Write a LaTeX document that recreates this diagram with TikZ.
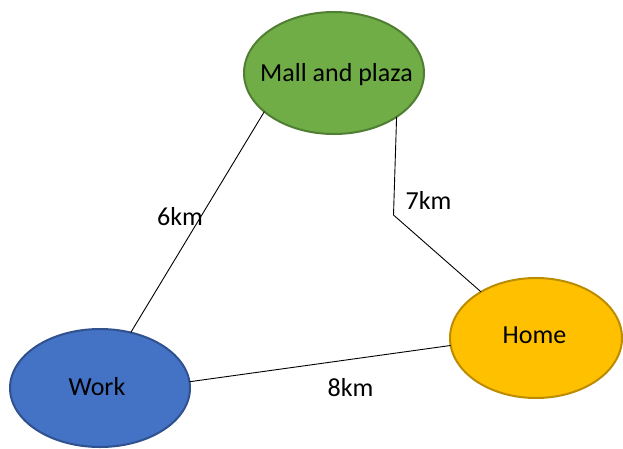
\documentclass[tikz,border=0pt]{standalone}
\usepackage{fontspec}
\setmainfont{Carlito}
\usetikzlibrary{shapes.geometric}
\definecolor{mallfill}{HTML}{70AD47}
\definecolor{malledge}{HTML}{507E32}
\definecolor{workfill}{HTML}{4472C4}
\definecolor{workedge}{HTML}{2F528F}
\definecolor{homefill}{HTML}{FFC000}
\definecolor{homeedge}{HTML}{BC8C00}
\tikzset{
  place/.style={ellipse, draw, line width=2pt, inner sep=0pt, outer sep=0pt},
  lbl/.style={anchor=base, inner sep=0pt, font=\fontsize{26}{30}\selectfont},
  road/.style={draw=black, line width=0.9pt}
}
\begin{document}
\begin{tikzpicture}[x=1pt, y=-1pt]
\useasboundingbox (0,0) rectangle (623,448);
\node[place, fill=mallfill, draw=malledge, minimum width=180pt, minimum height=122pt] (mall) at (334,73) {};
\node[place, fill=workfill, draw=workedge, minimum width=180pt, minimum height=118pt] (work) at (100,388) {};
\node[place, fill=homefill, draw=homeedge, minimum width=172pt, minimum height=120pt] (home) at (536,338) {};
\node[lbl] (malltext) at (336.5,81) {Mall and plaza};
\node[lbl] (worktext) at (97,395) {Work};
\node[lbl] (hometext) at (534.5,343) {Home};
\coordinate (bend) at (393.5,215);
\draw[road] (mall.209) -- (work.61);
\draw[road] (mall.325) -- (bend) -- (home.140);
\draw[road] (work.4.4) -- (home.185.3);
\node[lbl] (d6) at (180,225) {6km};
\node[lbl] (d7) at (428.5,209) {7km};
\node[lbl] (d8) at (350.5,396.7) {8km};
\end{tikzpicture}
\end{document}
